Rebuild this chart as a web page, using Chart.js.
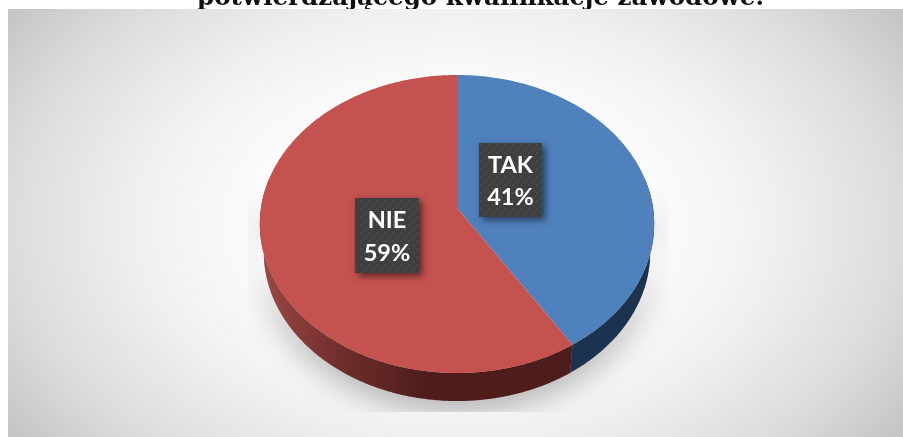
<!DOCTYPE html>
<html>
<head>
<meta charset="utf-8">
<style>
html,body{margin:0;padding:0;background:#fff;width:903px;height:437px;overflow:hidden}
#title{position:absolute;left:197px;top:0;width:620px;height:9px;overflow:hidden;font:bold 24.6px/1 "DejaVu Serif",serif;color:#111;white-space:nowrap}
#title span{position:relative;top:-15px;display:inline-block}
#wrap{position:absolute;left:0;top:0;width:903px;height:437px}
</style>
<script src="https://cdn.jsdelivr.net/npm/chart.js@4/dist/chart.umd.min.js"></script>
</head>
<body>
<div id="wrap"><canvas id="c" width="903" height="437"></canvas></div>
<div id="title"><span>potwierdzającego kwalifikacje zawodowe.</span></div>
<script>
const categories = ['TAK', 'NIE'];
const shares = [41, 59];
const topColors = ['#4f81bd', '#c4524f'];

// Perspective of the tilted disc
const persp = {k: .1074, by: .7515, depth: 28, shrink: .98};
const labelBoxes = [{cx: 510.5, cy: 180, w: 63, h: 74}, {cx: 387, cy: 235.5, w: 64, h: 75}];

function proj(a, t, base) {
  const u = Math.cos(t), v = Math.sin(t), w = 1 - persp.k * v;
  const R = a.outerRadius;
  const x = u * R / w, y = v * R * persp.by / w;
  return base ? [a.x + x * persp.shrink, a.y + y + persp.depth] : [a.x + x, a.y + y];
}
function tracePts(ctx, a, t0, t1, base, first) {
  const n = Math.max(2, Math.ceil(Math.abs(t1 - t0) / .01));
  for (let i = 0; i <= n; i++) {
    const p = proj(a, t0 + (t1 - t0) * i / n, base);
    if (i === 0 && first) ctx.moveTo(p[0], p[1]); else ctx.lineTo(p[0], p[1]);
  }
}
function wallPath(ctx, a, t0, t1) {
  ctx.beginPath();
  tracePts(ctx, a, t0, t1, false, true);
  tracePts(ctx, a, t1, t0, true, false);
  ctx.closePath();
}
function dotPattern(ctx) {
  const s = 8, pc = document.createElement('canvas');
  pc.width = pc.height = s;
  const g = pc.getContext('2d');
  g.fillStyle = '#3f3f3f'; g.fillRect(0, 0, s, s);
  g.fillStyle = '#4c4c4c';
  [[1, 1], [5, 5]].forEach(p => { g.beginPath(); g.arc(p[0], p[1], 1.1, 0, 7); g.fill(); });
  return ctx.createPattern(pc, 'repeat');
}

const disc3d = {
  id: 'disc3d',
  beforeDraw(chart) {
    const ctx = chart.ctx, W = chart.width, H = chart.height;
    ctx.save();
    ctx.fillStyle = '#fff'; ctx.fillRect(0, 0, W, H);
    ctx.beginPath(); ctx.rect(8, 9, W - 8, H - 9); ctx.clip();
    const cx = 455, cy = 223, rx = 445 / .813, ry = 300 / .813;
    ctx.translate(cx, cy); ctx.scale(1, ry / rx);
    const g = ctx.createRadialGradient(0, 0, 0, 0, 0, rx);
    g.addColorStop(0, '#ffffff'); g.addColorStop(.3, '#ffffff'); g.addColorStop(.58, '#f0f0f0');
    g.addColorStop(.813, '#dcdcdc'); g.addColorStop(1, '#c4c4c4');
    ctx.fillStyle = g; ctx.fillRect(-cx, -cy * rx / ry, W, H * rx / ry);
    ctx.restore();
  },
  beforeDatasetsDraw(chart) {
    const ctx = chart.ctx, arcs = chart.getDatasetMeta(0).data;
    const a0 = arcs[0];
    // floor shadow, cut by a box like the original
    ctx.save();
    ctx.beginPath(); ctx.rect(248, 190, 420, 222); ctx.clip();
    ctx.shadowColor = 'rgba(0,0,0,.34)'; ctx.shadowBlur = 30; ctx.shadowOffsetY = 7;
    ctx.fillStyle = '#999';
    wallPath(ctx, a0, -.1, Math.PI + .1);
    ctx.fill();
    ctx.restore();
    // side wall
    const lo = -.2, hi = Math.PI + .2;
    arcs.forEach((a, i) => {
      const t0 = Math.max(a.startAngle, lo), t1 = Math.min(a.endAngle, hi);
      if (t1 <= t0) return;
      let fill = '#1c3350';
      if (i === 1) {
        const g = ctx.createLinearGradient(262, 0, 425, 0);
        g.addColorStop(0, '#9a4744'); g.addColorStop(.5, '#6f2d2b'); g.addColorStop(1, '#4e1d1b');
        fill = g;
      }
      ctx.fillStyle = fill;
      wallPath(ctx, a, t0, t1);
      ctx.fill();
    });
    // top face
    arcs.forEach((a, i) => {
      ctx.beginPath();
      ctx.moveTo(a.x, a.y);
      tracePts(ctx, a, a.startAngle, a.endAngle, false, false);
      ctx.closePath();
      ctx.fillStyle = a.options.backgroundColor;
      ctx.fill();
    });
    return false;
  },
  afterDraw(chart) {
    const ctx = chart.ctx, data = chart.data.datasets[0].data, pat = dotPattern(ctx);
    chart.data.labels.forEach((lab, i) => {
      const b = labelBoxes[i];
      ctx.save();
      ctx.shadowColor = 'rgba(0,0,0,.55)'; ctx.shadowBlur = 7; ctx.shadowOffsetX = 3; ctx.shadowOffsetY = 3;
      ctx.fillStyle = '#3f3f3f';
      ctx.fillRect(b.cx - b.w / 2, b.cy - b.h / 2, b.w, b.h);
      ctx.restore();
      ctx.fillStyle = pat;
      ctx.fillRect(b.cx - b.w / 2, b.cy - b.h / 2, b.w, b.h);
      ctx.fillStyle = '#fff';
      ctx.font = 'bold 23.5px Lato, "Open Sans", sans-serif';
      ctx.textAlign = 'center'; ctx.textBaseline = 'alphabetic';
      ctx.fillText(lab, b.cx, b.cy - 7.5);
      ctx.fillText(data[i] + '%', b.cx, b.cy + 25);
    });
  }
};

new Chart(document.getElementById('c'), {
  type: 'pie',
  data: {labels: categories, datasets: [{data: shares, backgroundColor: topColors, borderWidth: 0}]},
  options: {
    responsive: false, animation: false,
    layout: {padding: {left: 261, right: 250, top: 12, bottom: 33}},
    plugins: {legend: {display: false}, tooltip: {enabled: false}, title: {display: false}}
  },
  plugins: [disc3d]
});
</script>
</body>
</html>
